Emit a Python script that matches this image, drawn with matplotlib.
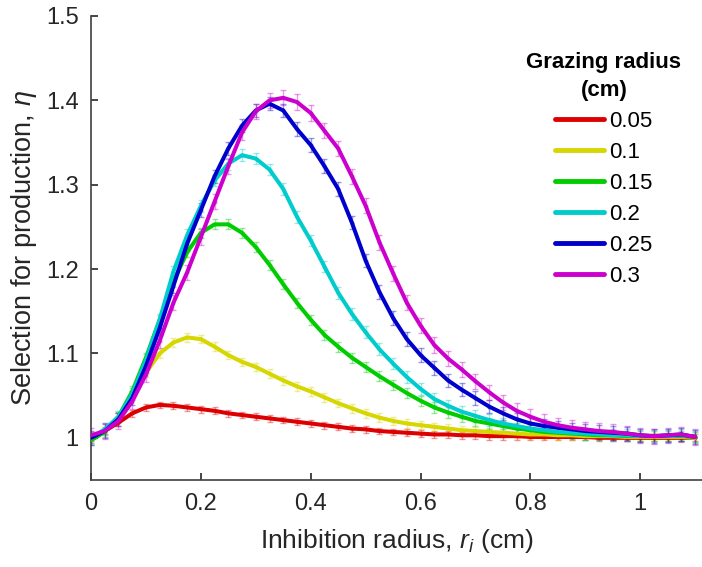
import matplotlib
matplotlib.use("Agg")
import matplotlib.pyplot as plt
import numpy as np
from matplotlib.ticker import FormatStrFormatter

plt.rcParams['font.family'] = ['Liberation Sans', 'DejaVu Sans']
plt.rcParams['mathtext.fontset'] = 'custom'
plt.rcParams['mathtext.it'] = 'Liberation Sans:italic'
plt.rcParams['mathtext.rm'] = 'Liberation Sans'

x = [0.0, 0.025, 0.05, 0.075, 0.1, 0.125, 0.15, 0.175, 0.2, 0.225, 0.25, 0.275,
     0.3, 0.325, 0.35, 0.375, 0.4, 0.425, 0.45, 0.475, 0.5, 0.525, 0.55, 0.575,
     0.6, 0.625, 0.65, 0.675, 0.7, 0.725, 0.75, 0.775, 0.8, 0.825, 0.85, 0.875,
     0.9, 0.925, 0.95, 0.975, 1.0, 1.025, 1.05, 1.075, 1.1]

labels = ['0.05', '0.1', '0.15', '0.2', '0.25', '0.3']

eta_005 = [1.0, 1.008, 1.018, 1.029, 1.036, 1.039, 1.038, 1.036, 1.034, 1.032, 1.029, 1.027,
           1.025, 1.023, 1.021, 1.019, 1.017, 1.015, 1.013, 1.011, 1.010, 1.008, 1.007, 1.006,
           1.005, 1.004, 1.004, 1.003, 1.003, 1.002, 1.002, 1.002, 1.001, 1.001, 1.001, 1.001,
           1.001, 1.0, 1.0, 1.0, 1.0, 1.0, 1.0, 1.0, 1.0]
eta_01 = [1.0, 1.008, 1.025, 1.050, 1.077, 1.100, 1.113, 1.119, 1.117, 1.108, 1.098, 1.090,
          1.084, 1.076, 1.068, 1.061, 1.055, 1.048, 1.041, 1.035, 1.029, 1.024, 1.020, 1.017,
          1.015, 1.013, 1.011, 1.009, 1.008, 1.007, 1.006, 1.005, 1.004, 1.004, 1.003, 1.003,
          1.002, 1.002, 1.002, 1.001, 1.001, 1.001, 1.001, 1.001, 1.0]
eta_015 = [0.997, 1.007, 1.025, 1.055, 1.095, 1.140, 1.185, 1.220, 1.243, 1.253, 1.253, 1.243,
           1.226, 1.205, 1.182, 1.160, 1.140, 1.122, 1.108, 1.095, 1.084, 1.073, 1.063, 1.053,
           1.044, 1.036, 1.030, 1.025, 1.020, 1.017, 1.014, 1.011, 1.009, 1.007, 1.006, 1.005,
           1.004, 1.003, 1.003, 1.002, 1.002, 1.002, 1.002, 1.002, 1.001]
eta_02 = [1.0, 1.010, 1.025, 1.052, 1.092, 1.140, 1.197, 1.240, 1.275, 1.305, 1.325, 1.335,
          1.331, 1.318, 1.295, 1.262, 1.234, 1.203, 1.172, 1.147, 1.125, 1.105, 1.088, 1.072,
          1.058, 1.046, 1.038, 1.031, 1.026, 1.021, 1.017, 1.014, 1.011, 1.009, 1.007, 1.006,
          1.005, 1.004, 1.003, 1.003, 1.002, 1.002, 1.002, 1.003, 1.001]
eta_025 = [1.0, 1.008, 1.022, 1.047, 1.085, 1.130, 1.180, 1.230, 1.270, 1.310, 1.343, 1.370,
           1.388, 1.396, 1.388, 1.366, 1.347, 1.322, 1.295, 1.255, 1.210, 1.173, 1.142, 1.117,
           1.098, 1.083, 1.068, 1.057, 1.047, 1.037, 1.029, 1.022, 1.017, 1.014, 1.012, 1.010,
           1.008, 1.007, 1.006, 1.005, 1.003, 1.002, 1.003, 1.004, 1.001]
eta_03 = [1.003, 1.008, 1.020, 1.043, 1.075, 1.115, 1.160, 1.196, 1.238, 1.280, 1.322, 1.362,
          1.387, 1.400, 1.403, 1.398, 1.385, 1.364, 1.343, 1.310, 1.275, 1.232, 1.195, 1.160,
          1.133, 1.110, 1.094, 1.081, 1.067, 1.054, 1.042, 1.032, 1.025, 1.019, 1.015, 1.012,
          1.010, 1.008, 1.007, 1.005, 1.003, 1.002, 1.003, 1.004, 1.001]

series = [eta_005, eta_01, eta_015, eta_02, eta_025, eta_03]
colors = ['#DD0000', '#D6D600', '#00CC00', '#00CCCC', '#0000CC', '#CC00CC']
errs = [0.004, 0.005, 0.006, 0.007, 0.008, 0.009]

fig = plt.figure(figsize=(7.02, 5.67), dpi=100)
ax = fig.add_axes([91/702, 87/567, 1 - 91/702 + 0.002, 464/567])

for y, c, e in zip(series, colors, errs):
    ax.errorbar(x, y, yerr=e, fmt='o', ms=2, color=c, alpha=0.4,
                elinewidth=1.0, capsize=2, capthick=1.0, zorder=1)
for y, c, lab in zip(series, colors, labels):
    ax.plot(x, y, color=c, lw=2.9, label=lab, zorder=3, solid_capstyle='round')

ax.set_xlim(0, 611/548)
ax.set_ylim(0.95, 1.5)
ax.set_xticks([0, 0.2, 0.4, 0.6, 0.8, 1.0])
ax.set_yticks([1.0, 1.1, 1.2, 1.3, 1.4, 1.5])
ax.xaxis.set_major_formatter(FormatStrFormatter('%g'))
ax.yaxis.set_major_formatter(FormatStrFormatter('%g'))
ax.tick_params(direction='in', length=5, width=1.2, colors='#262626', labelsize=17)
ax.tick_params(axis='x', pad=9)
ax.tick_params(axis='y', pad=9)
for s in ['top', 'right']:
    ax.spines[s].set_visible(False)
for s in ['left', 'bottom']:
    ax.spines[s].set_color('#404040')
    ax.spines[s].set_linewidth(1.2)

ax.set_xlabel(r'Inhibition radius, $r_i$ (cm)', fontsize=19, color='#262626', labelpad=9)
ax.set_ylabel(r'Selection for production, $\eta$', fontsize=19.5, color='#262626', labelpad=5)

leg = fig.legend(*ax.get_legend_handles_labels(), title='Grazing radius\n(cm)',
                 loc='upper center', bbox_to_anchor=(604/702, (567 - 36)/567),
                 frameon=False, fontsize=16, title_fontproperties={'weight': 'bold', 'size': 16},
                 handlelength=2.2, handletextpad=0.25, labelspacing=0.45, borderpad=0.2)
leg.get_title().set_multialignment('center')
leg.get_title().set_linespacing(1.45)
for h in leg.get_lines():
    h.set_linewidth(3.5)

fig.savefig('out.png', dpi=100)
